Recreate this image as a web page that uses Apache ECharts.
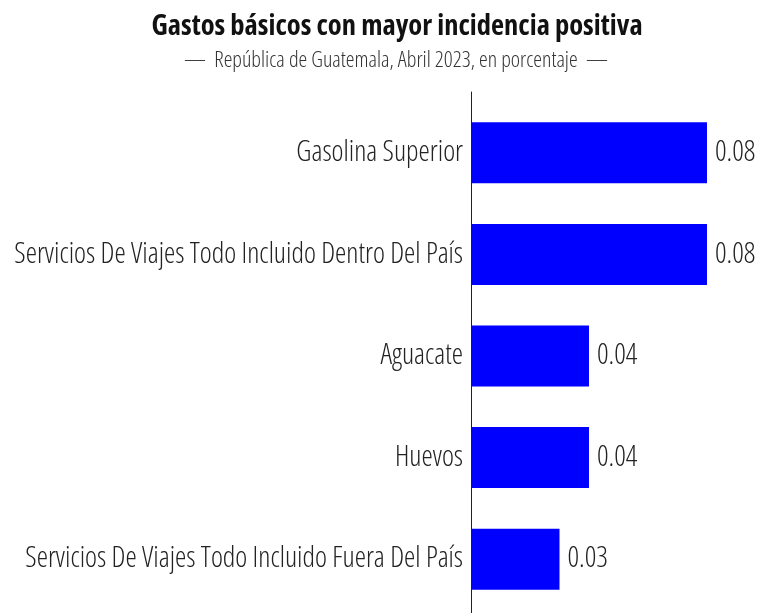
<!DOCTYPE html>
<html>
<head>
<meta charset="utf-8">
<script src="https://cdn.jsdelivr.net/npm/echarts@6/dist/echarts.min.js"></script>
<style>html,body{margin:0;padding:0;background:#fff;}#chart{width:767px;height:613px;}</style>
</head>
<body>
<div id="chart"></div>
<script>
const categories = [
  'Gasolina Superior',
  'Servicios De Viajes Todo Incluido Dentro Del País',
  'Aguacate',
  'Huevos',
  'Servicios De Viajes Todo Incluido Fuera Del País'
];
const values = [0.08, 0.08, 0.04, 0.04, 0.03];
const titleText = 'Gastos básicos con mayor incidencia positiva';
const subtitleText = '—  República de Guatemala, Abril 2023, en porcentaje  —';

const FAMILY = "'Open Sans', sans-serif";

const chart = echarts.init(document.getElementById('chart'), null, {renderer: 'canvas'});
chart.setOption({
  animation: false,
  backgroundColor: '#ffffff',
  title: [
    {
      text: titleText,
      left: 397,
      top: 12,
      padding: 0,
      textAlign: 'center',
      textStyle: {fontFamily: FAMILY, fontStyle: 'condensed', fontWeight: 'bold', fontSize: 28.5, color: '#111'}
    },
    {
      text: subtitleText,
      left: 396,
      top: 50,
      padding: 0,
      textAlign: 'center',
      textStyle: {fontFamily: FAMILY, fontStyle: 'condensed', fontWeight: 300, fontSize: 22, color: '#333'}
    }
  ],
  grid: [
    {left: 471, top: 102, height: 508, width: 295, outerBoundsMode: 'none', containLabel: false},
    {left: 471, top: 92, bottom: -20, width: 1, outerBoundsMode: 'none', containLabel: false}
  ],
  xAxis: [
    {type: 'value', gridIndex: 0, min: 0, max: 0.1, show: false},
    {type: 'value', gridIndex: 1, min: 0, max: 1, show: false}
  ],
  yAxis: [
    {
      type: 'category',
      gridIndex: 0,
      data: categories,
      inverse: true,
      axisLine: {show: false},
      axisTick: {show: false},
      splitLine: {show: false},
      axisLabel: {
        margin: 8,
        fontFamily: FAMILY, fontStyle: 'condensed', fontWeight: 300, fontSize: 28.5, color: '#222'
      }
    },
    {
      type: 'value',
      gridIndex: 1,
      min: 0, max: 1,
      axisLine: {show: true, lineStyle: {color: '#222', width: 1}},
      axisTick: {show: false},
      axisLabel: {show: false},
      splitLine: {show: false}
    }
  ],
  series: [{
    type: 'bar',
    xAxisIndex: 0,
    yAxisIndex: 0,
    data: values,
    barWidth: '60%',
    itemStyle: {color: '#0000ff'},
    label: {
      show: true,
      position: 'right',
      distance: 8,
      formatter: p => p.value.toFixed(2),
      fontFamily: FAMILY, fontStyle: 'condensed', fontWeight: 300, fontSize: 28.5, color: '#222'
    }
  }]
});
</script>
</body>
</html>
